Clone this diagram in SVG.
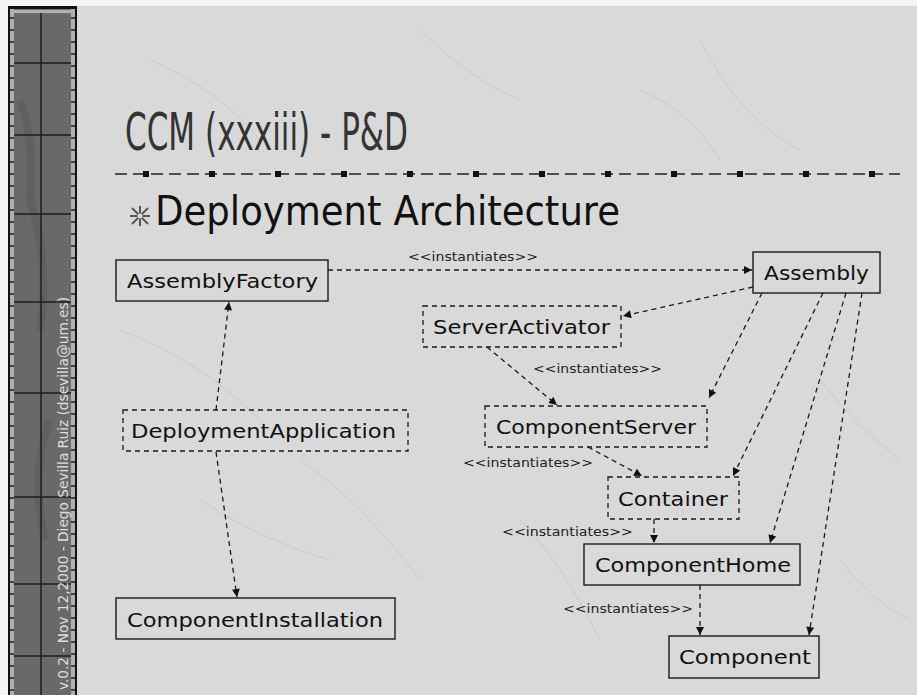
<svg xmlns="http://www.w3.org/2000/svg" width="917" height="695" viewBox="0 0 917 695">
<defs>
<style>
.bg{fill:#d9d9d9}
.crack{fill:none;stroke:#c9c9c9;stroke-width:1}
.box{fill:none;stroke:#1a1a1a;stroke-width:1.4}
.dbox{fill:none;stroke:#1a1a1a;stroke-width:1.3;stroke-dasharray:5 4}
.lbl{font-family:"DejaVu Sans",sans-serif;font-size:20px;fill:#111}
.st{font-family:"DejaVu Sans",sans-serif;font-size:13px;fill:#222}
.edge{fill:none;stroke:#1a1a1a;stroke-width:1.3;stroke-dasharray:5 4}
.grid{stroke:#1e1e1e;stroke-width:1.5}
</style>
<marker id="ah" viewBox="0 0 10 10" refX="10" refY="5" markerWidth="9" markerHeight="8" markerUnits="userSpaceOnUse" orient="auto">
<path d="M0,0 L10,5 L0,10 Z" fill="#111"/>
</marker>
<pattern id="stitchV" x="0" y="0" width="8" height="12" patternUnits="userSpaceOnUse">
<rect x="0" y="0" width="8" height="12" fill="#b0b0b0"/>
<rect x="0" y="5" width="8" height="2" fill="#444"/>
</pattern>
</defs>

<!-- page background -->
<rect x="0" y="0" width="917" height="695" fill="#f4f4f4"/>
<rect class="bg" x="77" y="6" width="840" height="689"/>
<g id="texture">
<path class="crack" d="M150,60 Q220,90 260,140"/>
<path class="crack" d="M420,30 Q470,80 520,100"/>
<path class="crack" d="M700,40 Q740,120 800,150"/>
<path class="crack" d="M120,330 Q200,360 260,420"/>
<path class="crack" d="M300,460 Q360,500 420,580"/>
<path class="crack" d="M520,520 Q560,560 600,640"/>
<path class="crack" d="M820,380 Q860,430 900,460"/>
<path class="crack" d="M200,500 Q260,540 330,560"/>
<path class="crack" d="M840,560 Q870,600 910,620"/>
<path class="crack" d="M640,90 Q690,110 720,160"/>
</g>

<!-- sidebar -->
<g id="sidebar">
<rect x="8" y="6" width="69" height="689" fill="#111"/>
<rect x="10" y="9" width="65" height="686" fill="#707070"/>
<rect x="14" y="14" width="56" height="681" fill="#696969"/>
<path d="M20,100 Q35,140 30,200 Q50,260 40,330 M50,420 Q30,470 45,540" stroke="#5a5a5a" stroke-width="8" fill="none" opacity="0.6"/>
<rect x="10" y="9" width="4" height="686" fill="url(#stitchV)"/>
<rect x="71" y="9" width="4" height="686" fill="url(#stitchV)"/>
<rect x="10" y="10" width="65" height="3" fill="#b0b0b0"/>
<line class="grid" x1="41" y1="13" x2="41" y2="695"/>
<line class="grid" x1="14" y1="63" x2="71" y2="63"/>
<line class="grid" x1="14" y1="135" x2="71" y2="135"/>
<line class="grid" x1="14" y1="214" x2="71" y2="214"/>
<line class="grid" x1="14" y1="302" x2="71" y2="302"/>
<line class="grid" x1="14" y1="393" x2="71" y2="393"/>
<line class="grid" x1="14" y1="497" x2="71" y2="497"/>
<line class="grid" x1="14" y1="584" x2="71" y2="584"/>
<line class="grid" x1="14" y1="656" x2="71" y2="656"/>
<text transform="translate(68,690) rotate(-90)" font-family="'DejaVu Sans Condensed','DejaVu Sans',sans-serif" font-size="14" fill="#dedede" textLength="393" lengthAdjust="spacingAndGlyphs">v.0.2 - Nov 12,2000 - Diego Sevilla Ruiz (dsevilla@um.es)</text>
</g>

<!-- title -->
<g id="title">
<text x="125" y="150" font-family="'DejaVu Sans Condensed','DejaVu Sans',sans-serif" font-size="51" fill="#333" textLength="283" lengthAdjust="spacingAndGlyphs">CCM (xxxiii) - P&amp;D</text>
<line x1="115" y1="174" x2="900" y2="174" stroke="#222" stroke-width="1.4" stroke-dasharray="12 6"/>
<g fill="#111">
<rect x="143" y="171" width="6" height="6"/>
<rect x="209" y="171" width="6" height="6"/>
<rect x="275" y="171" width="6" height="6"/>
<rect x="341" y="171" width="6" height="6"/>
<rect x="407" y="171" width="6" height="6"/>
<rect x="473" y="171" width="6" height="6"/>
<rect x="539" y="171" width="6" height="6"/>
<rect x="605" y="171" width="6" height="6"/>
<rect x="671" y="171" width="6" height="6"/>
<rect x="737" y="171" width="6" height="6"/>
<rect x="803" y="171" width="6" height="6"/>
<rect x="869" y="171" width="6" height="6"/>
</g>
</g>

<g id="subtitle">
<g stroke="#555" stroke-width="2">
<line x1="132" y1="208" x2="148" y2="224"/>
<line x1="148" y1="208" x2="132" y2="224"/>
<line x1="140" y1="206" x2="140" y2="226"/>
<line x1="130" y1="216" x2="150" y2="216"/>
</g>
<circle cx="140" cy="216" r="2.5" fill="#d9d9d9"/>
<text x="155" y="225" font-family="'DejaVu Sans Condensed','DejaVu Sans',sans-serif" font-size="40" fill="#111" textLength="465" lengthAdjust="spacingAndGlyphs">Deployment Architecture</text>
</g>

<!-- connectors -->
<g id="connectors">
<path class="edge" d="M328,270 L752,270" marker-end="url(#ah)"/>
<path class="edge" d="M216,410 L229,302" marker-end="url(#ah)"/>
<path class="edge" d="M216,452 L237,597" marker-end="url(#ah)"/>
<path class="edge" d="M753,287 L623,316" marker-end="url(#ah)"/>
<path class="edge" d="M487,347 L557,405" marker-end="url(#ah)"/>
<path class="edge" d="M762,293 L709,398" marker-end="url(#ah)"/>
<path class="edge" d="M588,447 L642,476" marker-end="url(#ah)"/>
<path class="edge" d="M823,293 L733,476" marker-end="url(#ah)"/>
<path class="edge" d="M654,519 L654,543" marker-end="url(#ah)"/>
<path class="edge" d="M846,293 L770,543" marker-end="url(#ah)"/>
<path class="edge" d="M862,293 L809,635" marker-end="url(#ah)"/>
<path class="edge" d="M700,585 L700,635" marker-end="url(#ah)"/>
<text class="st" x="408" y="261" textLength="130" lengthAdjust="spacingAndGlyphs">&lt;&lt;instantiates&gt;&gt;</text>
<text class="st" x="533" y="373" textLength="129" lengthAdjust="spacingAndGlyphs">&lt;&lt;instantiates&gt;&gt;</text>
<text class="st" x="463" y="467" textLength="130" lengthAdjust="spacingAndGlyphs">&lt;&lt;instantiates&gt;&gt;</text>
<text class="st" x="502" y="536" textLength="131" lengthAdjust="spacingAndGlyphs">&lt;&lt;instantiates&gt;&gt;</text>
<text class="st" x="563" y="613" textLength="130" lengthAdjust="spacingAndGlyphs">&lt;&lt;instantiates&gt;&gt;</text>
</g>

<!-- nodes -->
<g id="AssemblyFactory">
<rect class="box" x="116" y="260" width="212" height="41"/>
<text class="lbl" x="127" y="288" textLength="191" lengthAdjust="spacingAndGlyphs">AssemblyFactory</text>
</g>
<g id="DeploymentApplication">
<rect class="dbox" x="123" y="410" width="285" height="41"/>
<text class="lbl" x="131" y="438" textLength="265" lengthAdjust="spacingAndGlyphs">DeploymentApplication</text>
</g>
<g id="ComponentInstallation">
<rect class="box" x="116" y="598" width="279" height="41"/>
<text class="lbl" x="127" y="627" textLength="256" lengthAdjust="spacingAndGlyphs">ComponentInstallation</text>
</g>
<g id="Assembly">
<rect class="box" x="753" y="252" width="127" height="41"/>
<text class="lbl" x="764" y="280" textLength="105" lengthAdjust="spacingAndGlyphs">Assembly</text>
</g>
<g id="ServerActivator">
<rect class="dbox" x="423" y="306" width="198" height="41"/>
<text class="lbl" x="433" y="334" textLength="177" lengthAdjust="spacingAndGlyphs">ServerActivator</text>
</g>
<g id="ComponentServer">
<rect class="dbox" x="485" y="406" width="222" height="41"/>
<text class="lbl" x="496" y="434" textLength="200" lengthAdjust="spacingAndGlyphs">ComponentServer</text>
</g>
<g id="Container">
<rect class="dbox" x="608" y="477" width="131" height="42"/>
<text class="lbl" x="618" y="506" textLength="110" lengthAdjust="spacingAndGlyphs">Container</text>
</g>
<g id="ComponentHome">
<rect class="box" x="584" y="544" width="216" height="41"/>
<text class="lbl" x="595" y="572" textLength="196" lengthAdjust="spacingAndGlyphs">ComponentHome</text>
</g>
<g id="Component">
<rect class="box" x="669" y="636" width="150" height="42"/>
<text class="lbl" x="679" y="664" textLength="132" lengthAdjust="spacingAndGlyphs">Component</text>
</g>
</svg>
